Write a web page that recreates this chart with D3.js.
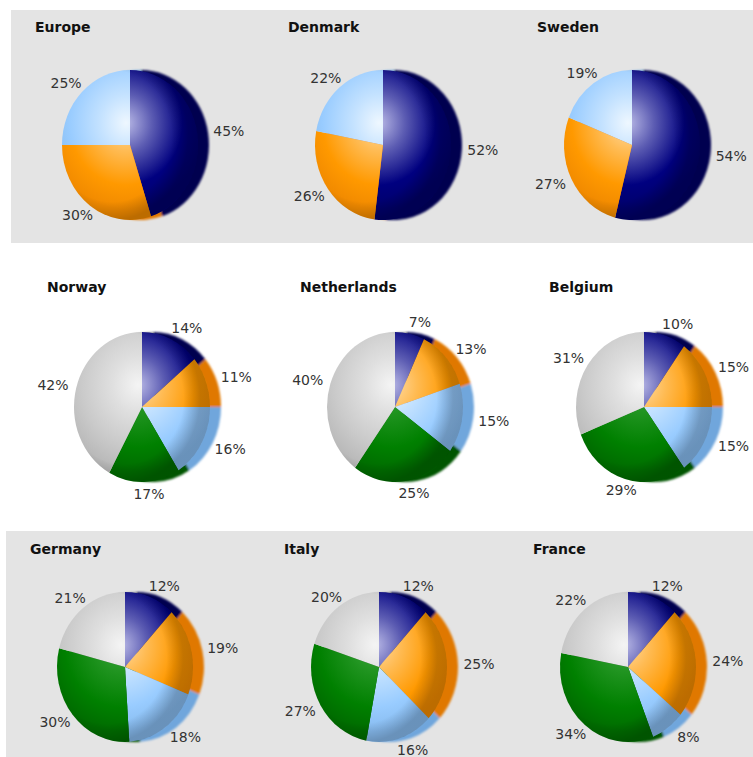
<!DOCTYPE html>
<html>
<head>
<meta charset="utf-8">
<script src="https://cdn.jsdelivr.net/npm/d3@7/dist/d3.min.js"></script>
<style>
  html, body { margin: 0; padding: 0; background: #ffffff; }
  svg { display: block; }
</style>
</head>
<body>
<svg id="chart" width="753" height="757"></svg>
<script>
// ---------------- DATA ----------------
const countries = ["Europe", "Denmark", "Sweden", "Norway", "Netherlands", "Belgium", "Germany", "Italy", "France"];
const seriesTop = ["navy", "orange", "lightblue"];
const seriesAll = ["navy", "orange", "lightblue", "green", "gray"];
const europeShares      = [45, 30, 25];
const denmarkShares     = [52, 26, 22];
const swedenShares      = [54, 27, 19];
const norwayShares      = [14, 11, 16, 17, 42];
const netherlandsShares = [7, 13, 15, 25, 40];
const belgiumShares     = [10, 15, 15, 29, 31];
const germanyShares     = [12, 19, 18, 30, 21];
const italyShares       = [12, 25, 16, 27, 20];
const franceShares      = [12, 24, 8, 34, 22];
const shareLists = [europeShares, denmarkShares, swedenShares, norwayShares, netherlandsShares,
                    belgiumShares, germanyShares, italyShares, franceShares];

// ---------------- STYLE / LAYOUT ----------------
const palette = {
  navy:      { tint: "#b9b9e6", base: "#000080", shade: "#000050" },
  orange:    { tint: "#ffdca6", base: "#ff9900", shade: "#e07800" },
  lightblue: { tint: "#eef7ff", base: "#99ccff", shade: "#70a6dc" },
  green:     { tint: "#3da63d", base: "#008000", shade: "#005400" },
  gray:      { tint: "#f4f4f4", base: "#cacaca", shade: "#a4a4a4" }
};
const pieCentersX = [[130, 383, 632], [142, 395, 644], [125, 379, 628]];
const pieCentersY = [145, 407, 667];
const titleBaselines = [32, 292, 554];
const rx = 68, ry = 75, rimShift = 11;

const svg = d3.select("#chart");

// background panels
svg.append("rect").attr("x", 11).attr("y", 10).attr("width", 742).attr("height", 233).attr("fill", "#e4e4e4");
svg.append("rect").attr("x", 6).attr("y", 531).attr("width", 747).attr("height", 226).attr("fill", "#e4e4e4");

const defs = svg.append("defs");
defs.append("filter").attr("id", "soft")
  .attr("x", "-20%").attr("y", "-20%").attr("width", "140%").attr("height", "140%")
  .append("feGaussianBlur").attr("stdDeviation", 0.9);

Object.entries(palette).forEach(([key, c]) => {
  const g = defs.append("radialGradient")
    .attr("id", "grad-" + key)
    .attr("gradientUnits", "userSpaceOnUse")
    .attr("cx", -4).attr("cy", -20).attr("r", rx * 1.15)
    .attr("fx", -4).attr("fy", -20);
  const mid = d3.interpolateRgb(c.tint, c.base)(0.5);
  g.append("stop").attr("offset", 0).attr("stop-color", c.tint);
  g.append("stop").attr("offset", 0.33).attr("stop-color", mid);
  g.append("stop").attr("offset", 0.72).attr("stop-color", c.base);
  g.append("stop").attr("offset", 1).attr("stop-color", d3.interpolateRgb(c.base, c.shade)(0.45));
});

// sphere-like shading toward the right edge, blending face into rim
const shadeGrad = defs.append("radialGradient")
  .attr("id", "edge-shade")
  .attr("gradientUnits", "userSpaceOnUse")
  .attr("cx", -18).attr("cy", -8).attr("r", rx * 1.12)
  .attr("fx", -18).attr("fy", -8);
shadeGrad.append("stop").attr("offset", 0).attr("stop-color", "#000").attr("stop-opacity", 0);
shadeGrad.append("stop").attr("offset", 0.78).attr("stop-color", "#000").attr("stop-opacity", 0);
shadeGrad.append("stop").attr("offset", 1).attr("stop-color", "#000").attr("stop-opacity", 0.22);

const pie = d3.pie().sort(null).value(d => d.value);
const arc = d3.arc().innerRadius(0).outerRadius(rx);

countries.forEach((name, i) => {
  const row = Math.floor(i / 3), col = i % 3;
  const cx = pieCentersX[row][col], cy = pieCentersY[row];
  const keys = shareLists[i].length === 3 ? seriesTop : seriesAll;
  const data = shareLists[i].map((v, k) => ({ key: keys[k], value: v }));
  const slices = pie(data);

  // title
  svg.append("text")
    .attr("x", cx - 95).attr("y", titleBaselines[row])
    .attr("font-family", "DejaVu Sans, Verdana, sans-serif")
    .attr("font-weight", "bold").attr("font-size", 14)
    .attr("fill", "#111")
    .text(name);

  const g = svg.append("g").attr("transform", `translate(${cx},${cy}) scale(1,${ry / rx})`);

  // side rim (3D thickness seen on the right)
  g.append("g").attr("transform", `translate(${rimShift},0)`)
    .attr("filter", "url(#soft)")
    .selectAll("path").data(slices).join("path")
    .attr("d", arc)
    .attr("fill", d => palette[d.data.key].shade);

  // faces
  g.append("g").selectAll("path").data(slices).join("path")
    .attr("d", arc)
    .attr("fill", d => `url(#grad-${d.data.key})`);

  // edge shading overlay
  g.append("circle").attr("r", rx).attr("fill", "url(#edge-shade)");

  // labels
  svg.append("g").selectAll("text").data(slices).join("text")
    .attr("x", d => {
      const a = (d.startAngle + d.endAngle) / 2;
      return cx + (rx + 28) * Math.sin(a) + 4;
    })
    .attr("y", d => {
      const a = (d.startAngle + d.endAngle) / 2;
      return cy - (ry + 12) * Math.cos(a);
    })
    .attr("dy", "0.35em")
    .attr("text-anchor", "middle")
    .attr("font-family", "DejaVu Sans, Verdana, sans-serif")
    .attr("font-size", 14)
    .attr("fill", "#333")
    .text(d => d.data.value + "%");
});
</script>
</body>
</html>
